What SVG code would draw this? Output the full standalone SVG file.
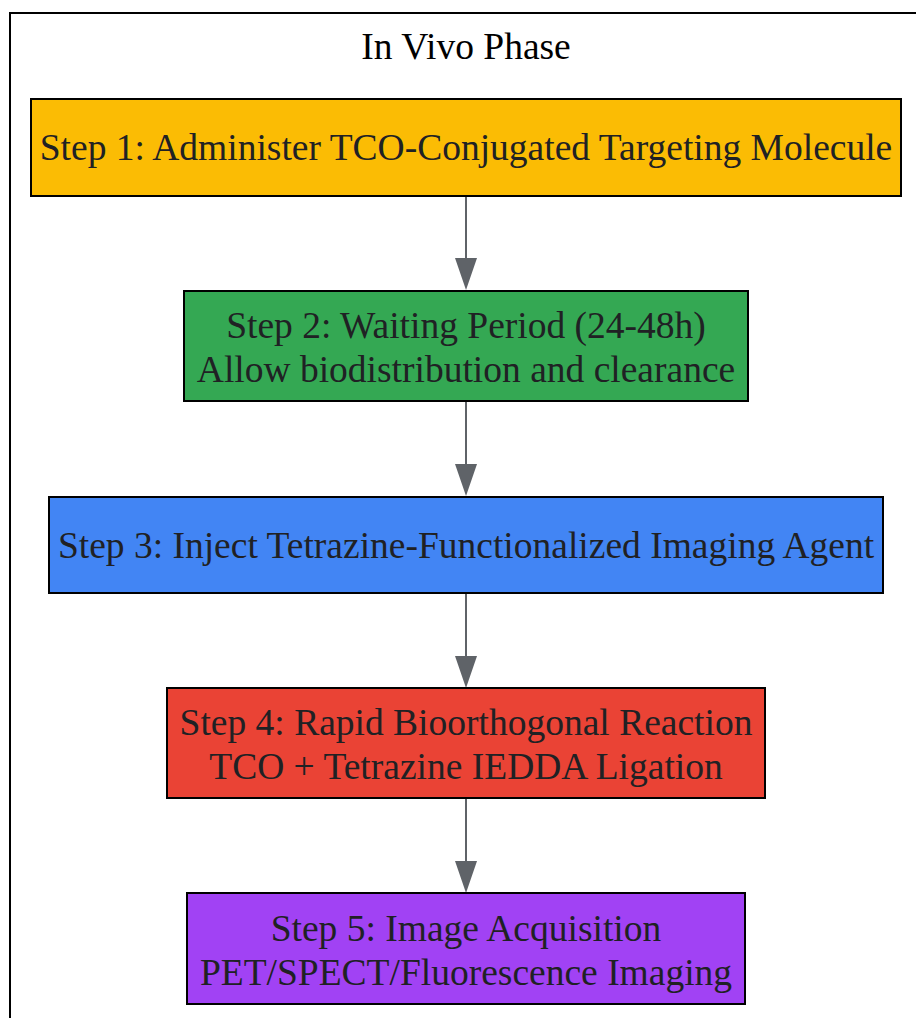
<svg xmlns="http://www.w3.org/2000/svg" width="916" height="1018" viewBox="0 0 916 1018">
<defs>
<style>
.n{stroke:#000;stroke-width:2}
.t{font-family:"Liberation Serif","Times New Roman",serif;font-size:37.5px;fill:#202124;text-anchor:middle}
.e{stroke:#5f6368;stroke-width:2;fill:none}
.h{fill:#5f6368}
</style>
</defs>
<rect width="916" height="1018" fill="#fff"/>
<g id="cluster">
<rect x="10" y="13" width="920" height="1020" fill="none" stroke="#000" stroke-width="2"/>
<text class="t" x="466" y="59" style="fill:#000">In Vivo Phase</text>
</g>
<g id="edges">
<line class="e" x1="466" y1="196" x2="466" y2="260"/>
<path class="h" d="M455,258 L477,258 L466,290 Z"/>
<line class="e" x1="466" y1="401" x2="466" y2="466"/>
<path class="h" d="M455,464 L477,464 L466,496 Z"/>
<line class="e" x1="466" y1="593" x2="466" y2="658"/>
<path class="h" d="M455,656 L477,656 L466,688 Z"/>
<line class="e" x1="466" y1="798" x2="466" y2="863"/>
<path class="h" d="M455,861 L477,861 L466,893 Z"/>
</g>
<g id="step1">
<rect class="n" x="31" y="99" width="870" height="97" fill="#fbbc04"/>
<text class="t" x="466" y="160">Step 1: Administer TCO-Conjugated Targeting Molecule</text>
</g>
<g id="step2">
<rect class="n" x="184" y="291" width="564" height="110" fill="#34a853"/>
<text class="t" x="466" y="338">Step 2: Waiting Period (24-48h)</text>
<text class="t" x="466" y="382">Allow biodistribution and clearance</text>
</g>
<g id="step3">
<rect class="n" x="49" y="497" width="834" height="96" fill="#4285f4"/>
<text class="t" x="466" y="558">Step 3: Inject Tetrazine-Functionalized Imaging Agent</text>
</g>
<g id="step4">
<rect class="n" x="167" y="688" width="598" height="110" fill="#ea4335"/>
<text class="t" x="466" y="735">Step 4: Rapid Bioorthogonal Reaction</text>
<text class="t" x="466" y="779">TCO + Tetrazine IEDDA Ligation</text>
</g>
<g id="step5">
<rect class="n" x="187" y="893" width="558" height="111" fill="#a142f4"/>
<text class="t" x="466" y="941">Step 5: Image Acquisition</text>
<text class="t" x="466" y="985">PET/SPECT/Fluorescence Imaging</text>
</g>
</svg>
